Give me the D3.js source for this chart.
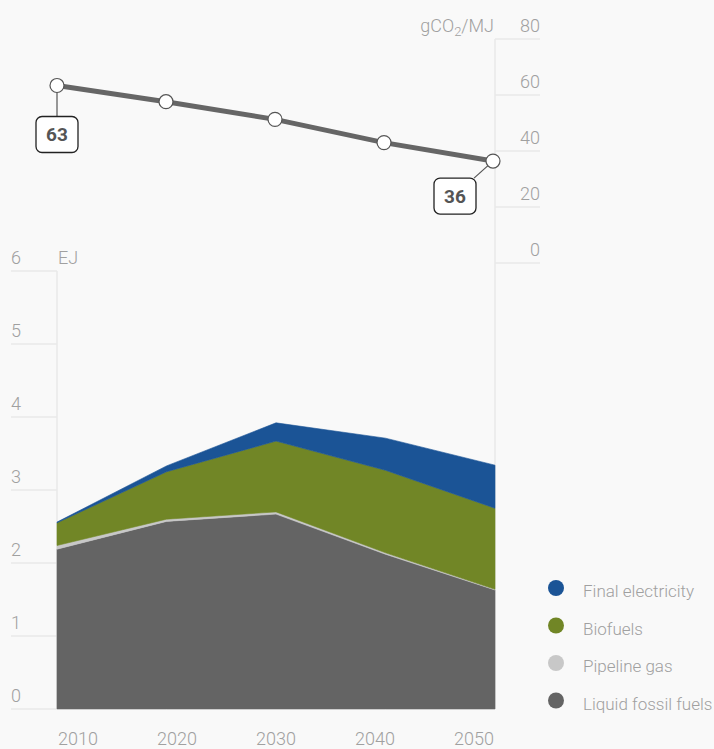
<!DOCTYPE html>
<html>
<head>
<meta charset="utf-8">
<script src="https://cdn.jsdelivr.net/npm/d3@7"></script>
<style>
  html, body { margin: 0; padding: 0; background: #f9f9f9; }
  svg { display: block; font-family: Roboto, "Open Sans", sans-serif; font-weight: 300; }
  .tick-label { fill: #a0a0a0; font-size: 18px; }
  .grid { stroke: #e8e8e8; stroke-width: 1.5; }
  .legend-label { fill: #a0a0a0; font-size: 17px; }
  .callout-text { fill: #555; font-size: 19px; font-weight: 700; }
</style>
</head>
<body>
<div class="chart"></div>
<script>
// data
const years = [2010, 2020, 2030, 2040, 2050];
const liquidFossil = [2.19, 2.57, 2.67, 2.12, 1.63];
const pipelineGas = [0.05, 0.03, 0.03, 0.02, 0.01];
const biofuels = [0.31, 0.65, 0.97, 1.13, 1.11];
const electricity = [0.01, 0.08, 0.25, 0.44, 0.59];
const intensity = [63.4, 57.6, 51.3, 43.0, 36.4];   // gCO2/MJ
const energyTicks = [0, 1, 2, 3, 4, 5, 6];
const intensityTicks = [0, 20, 40, 60, 80];
const seriesNames = ['Liquid fossil fuels', 'Pipeline gas', 'Biofuels', 'Final electricity'];
const seriesColors = ['#646464', '#c8c8c8', '#718626', '#1b5496'];

const W = 714, H = 749;

let svg = d3.select('.chart').append('svg')
	.attr('width', W)
	.attr('height', H);

svg.append('rect').attr('width', W).attr('height', H).attr('fill', '#f9f9f9');

// scales
let x = d3.scaleLinear().domain([2010, 2050]).range([57, 495]);
let xTop = d3.scaleLinear().domain([2010, 2050]).range([57, 493]);
let xLabel = d3.scalePoint().domain(years).range([78, 474]);
let y = d3.scaleLinear().domain([0, 6]).range([709, 271]);
let yTop = d3.scaleLinear().domain([0, 80]).range([263, 39]);

// bottom chart grid + ticks
svg.selectAll('.ygrid')
	.data(energyTicks)
	.enter().append('line')
	.attr('class', 'grid')
	.attr('x1', 11).attr('x2', 57)
	.attr('y1', d => y(d)).attr('y2', d => y(d));

svg.selectAll('.ylab')
	.data(energyTicks)
	.enter().append('text')
	.attr('class', 'tick-label')
	.attr('x', 11)
	.attr('y', d => y(d) - 7)
	.text(d => d);

svg.append('text').attr('class', 'tick-label')
	.attr('x', 58).attr('y', y(6) - 7).text('EJ');

svg.append('line').attr('class', 'grid')
	.attr('x1', x(2010)).attr('x2', x(2010))
	.attr('y1', y(6)).attr('y2', y(0));

svg.append('line').attr('class', 'grid')
	.attr('x1', x(2050)).attr('x2', x(2050))
	.attr('y1', yTop(80)).attr('y2', y(0));

// top chart grid + ticks
svg.selectAll('.ygridTop')
	.data(intensityTicks)
	.enter().append('line')
	.attr('class', 'grid')
	.attr('x1', x(2050)).attr('x2', 540)
	.attr('y1', d => yTop(d)).attr('y2', d => yTop(d));

svg.selectAll('.ylabTop')
	.data(intensityTicks)
	.enter().append('text')
	.attr('class', 'tick-label')
	.attr('x', 540)
	.attr('y', d => yTop(d) - 7)
	.attr('text-anchor', 'end')
	.text(d => d);

let unit = svg.append('text').attr('class', 'tick-label')
	.attr('x', 494).attr('y', yTop(80) - 7)
	.attr('text-anchor', 'end');
unit.append('tspan').text('gCO');
unit.append('tspan').attr('font-size', 13).attr('dy', 4).text('2');
unit.append('tspan').attr('dy', -4).text('/MJ');

// stacked areas
let rows = years.map((yr, i) => ({
	year: yr,
	'Liquid fossil fuels': liquidFossil[i],
	'Pipeline gas': pipelineGas[i],
	'Biofuels': biofuels[i],
	'Final electricity': electricity[i]
}));

let stacked = d3.stack().keys(seriesNames)(rows);

let area = d3.area()
	.x(d => x(d.data.year))
	.y0(d => y(d[0]))
	.y1(d => y(d[1]));

svg.selectAll('.layer')
	.data(stacked)
	.enter().append('path')
	.attr('class', 'layer')
	.attr('fill', (d, i) => seriesColors[i])
	.attr('stroke', (d, i) => seriesColors[i])
	.attr('stroke-width', 0.6)
	.attr('d', area);

// year labels
svg.selectAll('.xlab')
	.data(years)
	.enter().append('text')
	.attr('class', 'tick-label')
	.attr('x', d => xLabel(d))
	.attr('y', 745)
	.attr('text-anchor', 'middle')
	.text(d => d);

// intensity line
let pts = years.map((yr, i) => ({ year: yr, v: intensity[i] }));

let line = d3.line()
	.x(d => xTop(d.year))
	.y(d => yTop(d.v));

svg.append('path').datum(pts)
	.attr('fill', 'none')
	.attr('stroke', '#666')
	.attr('stroke-width', 5)
	.attr('d', line);

// callouts (first and last)
function callout(p, bx, by) {
	let cx = xTop(p.year), cy = yTop(p.v);
	svg.append('line')
		.attr('x1', cx).attr('y1', cy)
		.attr('x2', cx + bx.lx).attr('y2', cy + by.ly)
		.attr('stroke', '#555').attr('stroke-width', 1.2);
	svg.append('rect')
		.attr('x', cx + bx.dx).attr('y', cy + by.dy)
		.attr('width', 42).attr('height', 36)
		.attr('rx', 6)
		.attr('fill', '#fff')
		.attr('stroke', '#222').attr('stroke-width', 1.3);
	svg.append('text').attr('class', 'callout-text')
		.attr('x', cx + bx.dx + 21).attr('y', cy + by.dy + 25)
		.attr('text-anchor', 'middle')
		.text(d3.format('.0f')(p.v));
}
callout(pts[0], { dx: -21, lx: 0 }, { dy: 31, ly: 31 });
callout(pts[4], { dx: -59, lx: -19 }, { dy: 17, ly: 17 });

svg.selectAll('.dot')
	.data(pts)
	.enter().append('circle')
	.attr('class', 'dot')
	.attr('cx', d => xTop(d.year))
	.attr('cy', d => yTop(d.v))
	.attr('r', 7)
	.attr('fill', '#fff')
	.attr('stroke', '#555')
	.attr('stroke-width', 1.2);

// legend
let legend = svg.selectAll('.legend')
	.data(seriesNames.slice().reverse())
	.enter().append('g')
	.attr('transform', (d, i) => 'translate(556,' + (588 + i * 37.5) + ')');

legend.append('circle')
	.attr('r', 8)
	.attr('fill', d => seriesColors[seriesNames.indexOf(d)]);

legend.append('text')
	.attr('class', 'legend-label')
	.attr('x', 27)
	.attr('y', 9)
	.text(d => d);
</script>
</body>
</html>
